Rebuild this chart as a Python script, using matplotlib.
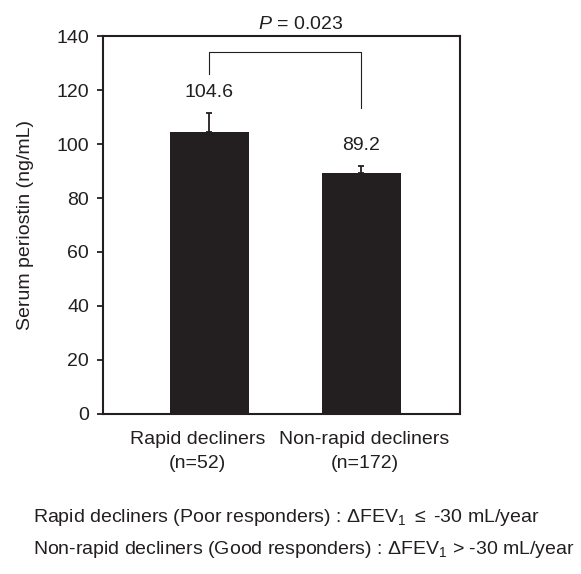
import matplotlib
matplotlib.use("Agg")
import matplotlib.pyplot as plt
import matplotlib.transforms as mtransforms

plt.rcParams['font.family'] = ['Liberation Sans', 'DejaVu Sans']
plt.rcParams['mathtext.fontset'] = 'custom'
plt.rcParams['mathtext.rm'] = 'Liberation Sans'
plt.rcParams['mathtext.it'] = 'Liberation Sans:italic'

# data
groups = ["Rapid decliners\n(n=52)", "Non-rapid decliners\n(n=172)"]
means = [104.6, 89.2]
errors = [6.9, 2.8]
value_labels = ["104.6", "89.2"]
p_text = "0.023"
yticks = [0, 20, 40, 60, 80, 100, 120, 140]

ink = '#231f20'
fs = 14

fig = plt.figure(figsize=(5.81, 5.74), dpi=100)
ax = fig.add_axes([0.177, 0.279, 0.615, 0.658])

x = [0, 1]
ax.bar(x, means, width=0.52, color=ink)
ax.errorbar(x, means, yerr=[[0, 0], errors], fmt='none', ecolor=ink,
            elinewidth=1.3, capsize=2, capthick=1.3)

for xi, m, e, lab in zip(x, means, errors, value_labels):
    ax.text(xi, m + e + 7.5, lab, ha='center', va='center', fontsize=fs, color=ink)

# significance bracket
ax.plot([0, 0, 1, 1], [126, 134, 134, 113.5], color=ink, lw=0.8, clip_on=False)
ax.text(0.6, 144.5, "$P$ = " + p_text, ha='center', va='center', fontsize=fs,
        color=ink, clip_on=False)

ax.set_xlim(-0.70, 1.65)
ax.set_ylim(0, 140)
ax.set_yticks(yticks)
ax.set_xticks(x)
ax.set_xticklabels(groups, fontsize=fs, color=ink, linespacing=1.6)
ax.tick_params(axis='x', length=0, pad=12)
ax.tick_params(axis='y', direction='out', length=4, width=1.3, colors=ink,
               labelsize=fs, pad=6)
# nudge category labels apart like the original
for lbl, dx in zip(ax.get_xticklabels(), [-12, 3]):
    lbl.set_transform(lbl.get_transform() +
                      mtransforms.ScaledTranslation(dx / 100, 0, fig.dpi_scale_trans))
for s in ax.spines.values():
    s.set_linewidth(1.5)
    s.set_color(ink)
ax.set_ylabel("Serum periostin (ng/mL)", fontsize=fs, color=ink, labelpad=16)

fig.text(0.057, 0.098, r"Rapid decliners (Poor responders) : $\Delta$FEV$_1$ $\leq$ -30 mL/year",
         fontsize=fs, color=ink, va='center')
fig.text(0.057, 0.042, r"Non-rapid decliners (Good responders) : $\Delta$FEV$_1$ > -30 mL/year",
         fontsize=fs, color=ink, va='center')

plt.savefig("out.png", dpi=100)
plt.close()
